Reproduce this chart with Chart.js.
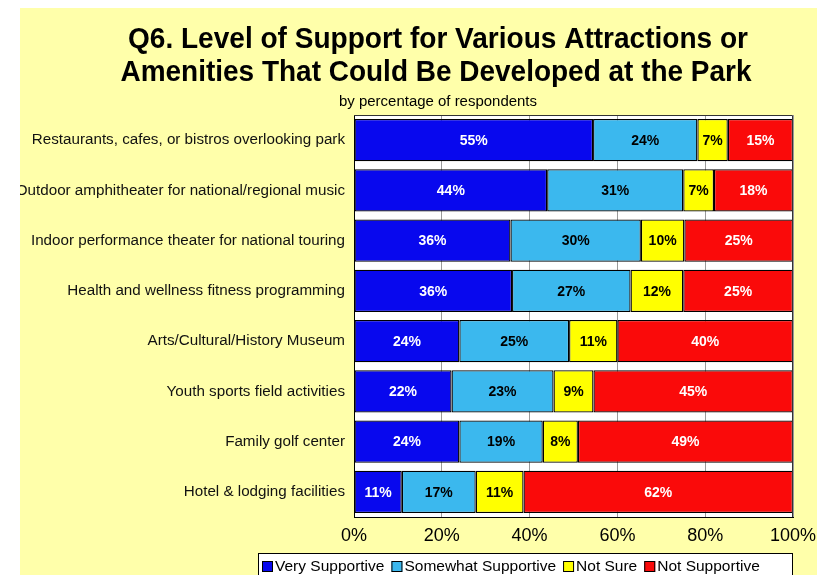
<!DOCTYPE html>
<html>
<head>
<meta charset="utf-8">
<script src="https://cdn.jsdelivr.net/npm/chart.js@4.4.1/dist/chart.umd.min.js"></script>
<style>
  html, body { margin: 0; padding: 0; background: #ffffff; }
  #frame { position: absolute; left: 20px; top: 8px; width: 797px; height: 567px; background: #FFFFAA; overflow: hidden; }
  canvas { display: block; }
</style>
</head>
<body>
<div id="frame"><canvas id="chart" width="797" height="567"></canvas></div>
<script>
// Survey items, top to bottom
const categories = [
  'Restaurants, cafes, or bistros overlooking park',
  'Outdoor amphitheater for national/regional music',
  'Indoor performance theater for national touring',
  'Health and wellness fitness programming',
  'Arts/Cultural/History Museum',
  'Youth sports field activities',
  'Family golf center',
  'Hotel & lodging facilities'
];

// Percent of respondents per answer
const verySupportive     = [55, 44, 36, 36, 24, 22, 24, 11];
const somewhatSupportive = [24, 31, 30, 27, 25, 23, 19, 17];
const notSure            = [7, 7, 10, 12, 11, 9, 8, 11];
const notSupportive      = [15, 18, 25, 25, 40, 45, 49, 62];

const seriesNames = ['Very Supportive', 'Somewhat Supportive', 'Not Sure', 'Not Supportive'];
const xTickValues = [0, 20, 40, 60, 80, 100];

const titleLines = [
  'Q6. Level of Support for Various Attractions or',
  'Amenities That Could Be Developed at the Park'
];
const subtitle = 'by percentage of respondents';

const FONT = "'Liberation Sans', Arial, Helvetica, sans-serif";
const fills = ['#0808EE', '#3BB8EE', '#FFFF00', '#FA0A0A'];
const labelColors = ['#ffffff', '#000000', '#000000', '#ffffff'];

const rawSeries = [verySupportive, somewhatSupportive, notSure, notSupportive];

// 100% stacked: each row is scaled by its own total
const rowTotals = categories.map((_, i) => rawSeries.reduce((s, arr) => s + arr[i], 0));

const datasets = rawSeries.map((arr, k) => ({
  label: seriesNames[k],
  data: arr.map((v, i) => v / rowTotals[i] * 100),
  raw: arr,
  backgroundColor: fills[k],
  borderColor: '#000000',
  borderWidth: 1.3,
  borderSkipped: false,
  barPercentage: 0.84,
  categoryPercentage: 1.0
}));

// draws a line of text squeezed or stretched to a given width
function fitText(ctx, text, cx, baseline, width, font) {
  ctx.save();
  ctx.font = font;
  const w = ctx.measureText(text).width;
  ctx.translate(cx, baseline);
  ctx.scale(width / w, 1);
  ctx.textAlign = 'center';
  ctx.textBaseline = 'alphabetic';
  ctx.fillStyle = '#000000';
  ctx.fillText(text, 0, 0);
  ctx.restore();
}

const decorations = {
  id: 'decorations',
  beforeDraw(chart) {
    const { ctx, chartArea: a } = chart;
    ctx.save();
    ctx.fillStyle = '#ffffff';
    ctx.fillRect(a.left, a.top, a.right - a.left, a.bottom - a.top);
    ctx.restore();
    // headings
    fitText(ctx, titleLines[0], 418, 40, 620, 'bold 29px ' + FONT);
    fitText(ctx, titleLines[1], 416, 73, 631, 'bold 29px ' + FONT);
    fitText(ctx, subtitle, 418, 98, 198, '14px ' + FONT);
  },
  afterDatasetsDraw(chart) {
    const { ctx, chartArea: a } = chart;
    ctx.save();
    // plot frame (top and right edges)
    ctx.strokeStyle = '#333333';
    ctx.lineWidth = 1;
    ctx.beginPath();
    ctx.moveTo(a.left, a.top + 0.5);
    ctx.lineTo(a.right - 0.5, a.top + 0.5);
    ctx.lineTo(a.right - 0.5, a.bottom);
    ctx.stroke();
    // value labels
    ctx.font = 'bold 14px ' + FONT;
    ctx.textAlign = 'center';
    ctx.textBaseline = 'middle';
    chart.data.datasets.forEach((ds, k) => {
      const meta = chart.getDatasetMeta(k);
      meta.data.forEach((el, i) => {
        ctx.fillStyle = labelColors[k];
        ctx.fillText(ds.raw[i] + '%', (el.x + el.base) / 2, el.y + 1);
      });
    });
    ctx.restore();
  },
  afterDraw(chart) {
    const { ctx } = chart;
    ctx.save();
    const boxLeft = 238, boxTop = 545, boxRight = 773, boxH = 28;
    ctx.fillStyle = '#ffffff';
    ctx.fillRect(boxLeft, boxTop, boxRight - boxLeft, boxH);
    ctx.strokeStyle = '#000000';
    ctx.lineWidth = 1;
    ctx.strokeRect(boxLeft + 0.5, boxTop + 0.5, boxRight - boxLeft - 1, boxH);
    ctx.font = '15.5px ' + FONT;
    ctx.textBaseline = 'middle';
    ctx.textAlign = 'left';
    let x = 242;
    const cy = 558;
    chart.data.datasets.forEach((ds, k) => {
      ctx.fillStyle = ds.backgroundColor;
      ctx.fillRect(x, cy - 5, 11, 11);
      ctx.strokeStyle = '#000000';
      ctx.strokeRect(x + 0.5, cy - 4.5, 10, 10);
      ctx.fillStyle = '#000000';
      ctx.fillText(ds.label, x + 13, cy + 1);
      x += 13 + ctx.measureText(ds.label).width + 7;
    });
    ctx.restore();
  }
};

new Chart(document.getElementById('chart'), {
  type: 'bar',
  data: { labels: categories, datasets },
  options: {
    indexAxis: 'y',
    responsive: false,
    animation: false,
    layout: { padding: { top: 107, right: 24, bottom: 28, left: 0 } },
    plugins: {
      legend: { display: false },
      title: { display: false },
      tooltip: { enabled: false }
    },
    scales: {
      x: {
        stacked: true,
        min: 0,
        max: 100,
        afterBuildTicks: s => { s.ticks = xTickValues.map(v => ({ value: v })); },
        afterFit: s => { s.height = 30; s.paddingLeft = 0; s.paddingRight = 0; },
        ticks: {
          callback: v => v + '%',
          font: { size: 18, family: FONT },
          color: '#000000',
          padding: 8,
          maxRotation: 0,
          autoSkip: false
        },
        grid: { color: '#9a9a9a', lineWidth: 1, drawTicks: false },
        border: { color: '#000000', width: 1 }
      },
      y: {
        stacked: true,
        afterFit: s => { s.width = 334; },
        ticks: {
          font: { size: 15.2, family: FONT },
          color: '#111111',
          padding: 9,
          autoSkip: false
        },
        grid: { display: false, drawTicks: false },
        border: { color: '#000000', width: 1 }
      }
    }
  },
  plugins: [decorations]
});
</script>
</body>
</html>
